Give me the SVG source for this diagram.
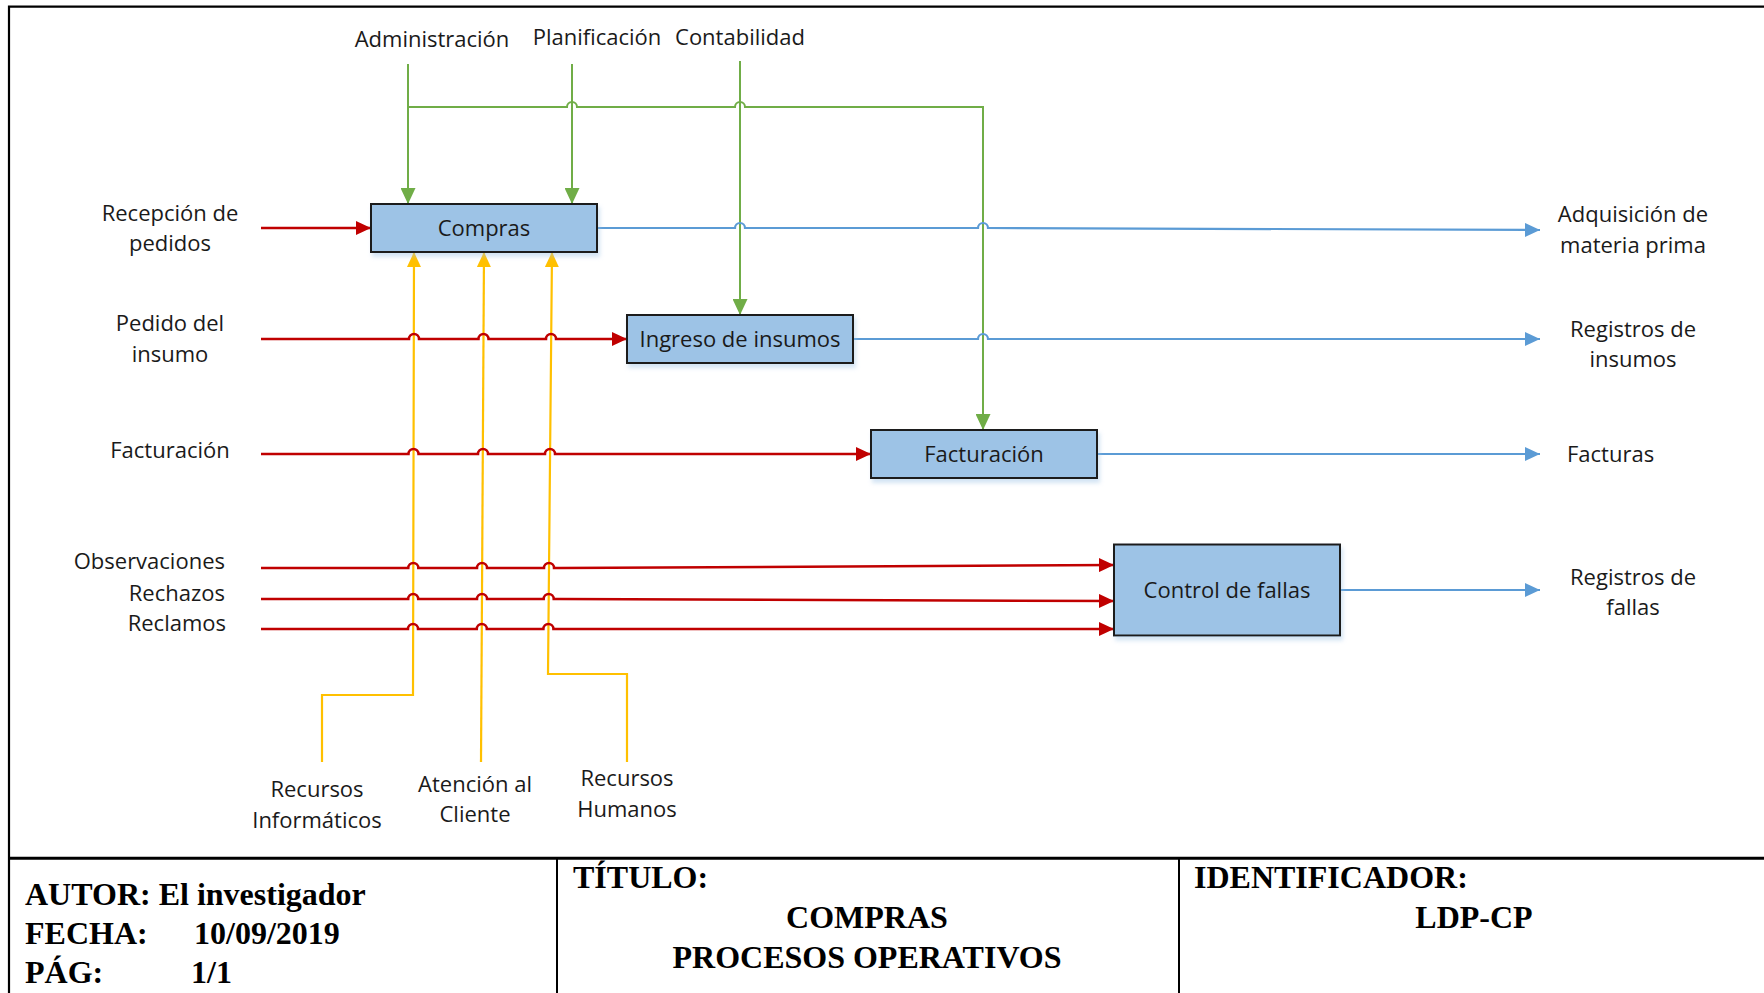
<svg xmlns="http://www.w3.org/2000/svg" width="1764" height="993" viewBox="0 0 1764 993">
<style>
.lbl{font-family:"Open Sans","Liberation Sans",sans-serif;font-size:22px;fill:#1a1a1a}
.mid{text-anchor:middle}
.end{text-anchor:end}
.box{fill:#9DC3E6;stroke:#1a1a1a;stroke-width:2}
.g{fill:none;stroke:#70AD47;stroke-width:2}
.r{fill:none;stroke:#C00000;stroke-width:2.5}
.b{fill:none;stroke:#5B9BD5;stroke-width:2.2}
.y{fill:none;stroke:#FFC000;stroke-width:2.2}
.tb{font-family:"Liberation Serif","Times New Roman",serif;font-size:32px;font-weight:bold;fill:#000}
.frame{stroke:#000;fill:none}
</style>
<defs>
<filter id="sh" x="-10%" y="-10%" width="130%" height="140%">
<feDropShadow dx="2" dy="4" stdDeviation="2" flood-color="#9DC3E6" flood-opacity="0.45"/>
</filter>
<marker id="ar" markerUnits="userSpaceOnUse" markerWidth="15" markerHeight="14" refX="15" refY="7" orient="auto"><path d="M0,0 L15,7 L0,14 z" fill="#C00000"/></marker>
<marker id="ag" markerUnits="userSpaceOnUse" markerWidth="16" markerHeight="15" refX="16" refY="7.5" orient="auto"><path d="M0,0 L16,7.5 L0,15 z" fill="#70AD47"/></marker>
<marker id="ab" markerUnits="userSpaceOnUse" markerWidth="15" markerHeight="14" refX="15" refY="7" orient="auto"><path d="M0,0 L15,7 L0,14 z" fill="#5B9BD5"/></marker>
<marker id="ay" markerUnits="userSpaceOnUse" markerWidth="15" markerHeight="14" refX="15" refY="7" orient="auto"><path d="M0,0 L15,7 L0,14 z" fill="#FFC000"/></marker>
</defs>
<rect width="1764" height="993" fill="#fff"/>

<g id="frame">
<path class="frame" stroke-width="2.2" d="M9,993 V6.7 H1764"/>
<path class="frame" stroke-width="3" d="M9,858.3 H1764"/>
<path class="frame" stroke-width="2" d="M557,858.3 V993 M1179,858.3 V993"/>
</g>

<g id="connectors">
<!-- green controls -->
<path class="g" d="M408,64 V204" marker-end="url(#ag)"/>
<path class="g" d="M572,64 V204" marker-end="url(#ag)"/>
<path class="g" d="M740,61 V315" marker-end="url(#ag)"/>
<path class="g" d="M408,107 H567 a5,5 0 0 1 10,0 H735 a5,5 0 0 1 10,0 H983 V430" marker-end="url(#ag)"/>
<!-- yellow mechanisms -->
<path class="y" d="M322,762 V695 H413 L414,252" marker-end="url(#ay)"/>
<path class="y" d="M481,762 L484,252" marker-end="url(#ay)"/>
<path class="y" d="M627,762 V674 H548 L552,252" marker-end="url(#ay)"/>
<!-- red inputs -->
<path class="r" d="M261,228 H371" marker-end="url(#ar)"/>
<path class="r" d="M261,339 H409 a5,5 0 0 1 10,0 H478.5 a5,5 0 0 1 10,0 H546 a5,5 0 0 1 10,0 H627" marker-end="url(#ar)"/>
<path class="r" d="M261,454 H408.5 a5,5 0 0 1 10,0 H478 a5,5 0 0 1 10,0 H545 a5,5 0 0 1 10,0 H871" marker-end="url(#ar)"/>
<path class="r" d="M261,568 H408.3 a5,5 0 0 1 10,0 H477 a5,5 0 0 1 10,0 H544 a5,5 0 0 1 10,0 H560 L1114,565" marker-end="url(#ar)"/>
<path class="r" d="M261,599 H408.2 a5,5 0 0 1 10,0 H477 a5,5 0 0 1 10,0 H543.7 a5,5 0 0 1 10,0 H560 L1114,601" marker-end="url(#ar)"/>
<path class="r" d="M261,629 H408 a5,5 0 0 1 10,0 H476.8 a5,5 0 0 1 10,0 H543.4 a5,5 0 0 1 10,0 H1114" marker-end="url(#ar)"/>
<!-- blue outputs -->
<path class="b" d="M597,228 H735 a5,5 0 0 1 10,0 H978 a5,5 0 0 1 10,0 L1540,230" marker-end="url(#ab)"/>
<path class="b" d="M853,339 H978 a5,5 0 0 1 10,0 H1540" marker-end="url(#ab)"/>
<path class="b" d="M1097,454 H1540" marker-end="url(#ab)"/>
<path class="b" d="M1340,590 H1540" marker-end="url(#ab)"/>
</g>

<g id="node-compras">
<rect class="box" x="371" y="204" width="226" height="48" filter="url(#sh)"/>
<text class="lbl mid" x="484" y="236">Compras</text>
</g>
<g id="node-ingreso">
<rect class="box" x="627" y="315" width="226" height="48" filter="url(#sh)"/>
<text class="lbl mid" x="740" y="347">Ingreso de insumos</text>
</g>
<g id="node-facturacion">
<rect class="box" x="871" y="430" width="226" height="48" filter="url(#sh)"/>
<text class="lbl mid" x="984" y="462">Facturación</text>
</g>
<g id="node-control">
<rect class="box" x="1114" y="544.5" width="226" height="91" filter="url(#sh)"/>
<text class="lbl mid" x="1227" y="598">Control de fallas</text>
</g>

<g id="labels">
<text class="lbl mid" x="432" y="47">Administración</text>
<text class="lbl mid" x="597" y="45">Planificación</text>
<text class="lbl mid" x="740" y="45">Contabilidad</text>

<text class="lbl mid" x="170" y="221">Recepción de</text>
<text class="lbl mid" x="170" y="251">pedidos</text>
<text class="lbl mid" x="170" y="331">Pedido del</text>
<text class="lbl mid" x="170" y="362">insumo</text>
<text class="lbl mid" x="170" y="458">Facturación</text>
<text class="lbl end" x="225" y="569">Observaciones</text>
<text class="lbl end" x="225" y="601">Rechazos</text>
<text class="lbl end" x="226" y="631">Reclamos</text>

<text class="lbl mid" x="1633" y="222">Adquisición de</text>
<text class="lbl mid" x="1633" y="253">materia prima</text>
<text class="lbl mid" x="1633" y="337">Registros de</text>
<text class="lbl mid" x="1633" y="367">insumos</text>
<text class="lbl" x="1567" y="462">Facturas</text>
<text class="lbl mid" x="1633" y="585">Registros de</text>
<text class="lbl mid" x="1633" y="615">fallas</text>

<text class="lbl mid" x="317" y="797">Recursos</text>
<text class="lbl mid" x="317" y="828">Informáticos</text>
<text class="lbl mid" x="475" y="792">Atención al</text>
<text class="lbl mid" x="475" y="822">Cliente</text>
<text class="lbl mid" x="627" y="786">Recursos</text>
<text class="lbl mid" x="627" y="817">Humanos</text>
</g>

<g id="title-block">
<text class="tb" x="25" y="905">AUTOR: El investigador</text>
<text class="tb" x="25" y="944">FECHA:</text>
<text class="tb" x="194" y="944">10/09/2019</text>
<text class="tb" x="25" y="983">PÁG:</text>
<text class="tb" x="191" y="983">1/1</text>
<text class="tb" x="573" y="888">TÍTULO:</text>
<text class="tb mid" x="867" y="928">COMPRAS</text>
<text class="tb mid" x="867" y="968">PROCESOS OPERATIVOS</text>
<text class="tb" x="1194" y="888">IDENTIFICADOR:</text>
<text class="tb mid" x="1474" y="928">LDP-CP</text>
</g>
</svg>
